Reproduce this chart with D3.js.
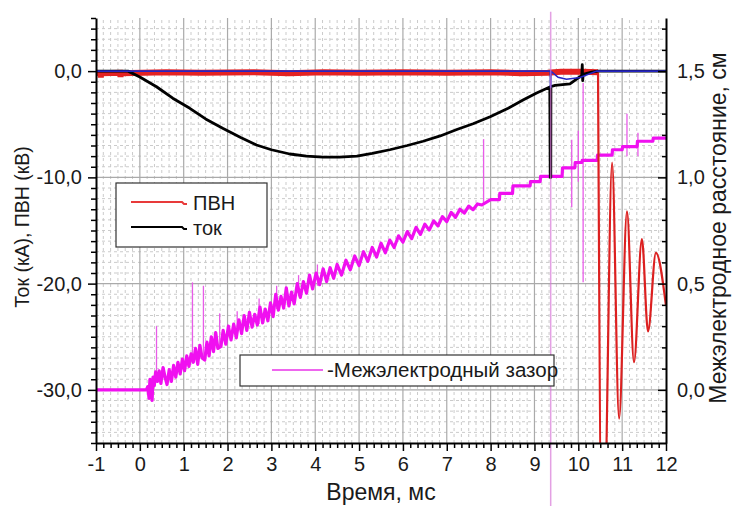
<!DOCTYPE html>
<html>
<head>
<meta charset="utf-8">
<script src="https://cdn.jsdelivr.net/npm/d3@7"></script>
<style>
  body { margin: 0; background: #fff; }
  text { font-family: "Liberation Sans", Arial, sans-serif; fill: #1a1a1a; }
</style>
</head>
<body>
<svg id="chart" width="733" height="506"></svg>
<script>
// ---- data -------------------------------------------------------------
// time axis, ms
const timeTicks = d3.range(-1, 13);
// left axis: current (kA) and ПВН voltage (kV)
const leftTicks = [0, -10, -20, -30];
// right axis: electrode gap, cm
const rightTicks = [0, 0.5, 1.0, 1.5];

// ПВН voltage [t, kV]: noisy band near zero, then ringing after breakdown
const pvnBand = [
  [-1.00, -0.15], [-0.90, -0.20], [-0.89, -0.60], [-0.88, -0.20], [-0.45, -0.15],
  [-0.44, -0.55], [-0.43, -0.20], [0.60, -0.10], [1.40, -0.15], [2.60, -0.10],
  [3.40, -0.20], [4.20, -0.10], [5.00, -0.15], [6.00, -0.10], [7.00, -0.15],
  [8.00, -0.10], [8.70, -0.20], [9.30, -0.15], [9.60, -0.05], [10.10, -0.05],
  [10.45, -0.10]
];
const pvnRinging = [
  [10.45, -0.10], [10.53, -42], [10.59, -42], [10.77, -8.6], [10.93, -32.7],
  [11.11, -13.2], [11.27, -27.4], [11.45, -15.8], [11.59, -24.5], [11.77, -17.1],
  [12.00, -22.1]
];

// current [t, kA]
const current = [
  [-1.00, 0], [-0.27, 0], [0.00, -0.55], [0.38, -1.47], [0.75, -2.55], [1.14, -3.5],
  [1.50, -4.5], [1.90, -5.4], [2.30, -6.25], [2.66, -6.95], [3.00, -7.4], [3.42, -7.8],
  [3.80, -8.0], [4.18, -8.1], [4.55, -8.1], [4.95, -8.0], [5.30, -7.75], [5.70, -7.4],
  [6.10, -7.0], [6.46, -6.6], [6.85, -6.1], [7.23, -5.5], [7.60, -4.95], [7.99, -4.3],
  [8.40, -3.5], [8.75, -2.7], [9.05, -2.05], [9.35, -1.5], [9.36, -10], [9.372, -10],
  [9.375, -1.45], [9.47, -1.35], [9.81, -1.2], [10.08, -0.4], [10.09, 0.6], [10.10, -0.9],
  [10.11, -0.3], [10.30, -0.1], [10.45, 0], [12.00, 0]
];

// auxiliary channel [t, kV]
const auxChannel = [
  [-1.00, 0], [9.360, 0], [9.365, -1.5], [9.372, -1.5], [9.375, 0], [9.54, -0.58],
  [9.73, -0.77], [10.04, -0.6], [10.42, 0], [12.00, 0]
];

// electrode gap [t, cm]
const gap = [
  [-1.00, 0.000], [0.15, 0.000], [0.18, 0.015], [0.21, -0.040], [0.23, 0.050], [0.26, 0.015],
  [0.28, -0.050], [0.30, 0.060], [0.33, 0.020], [0.36, 0.085], [0.40, 0.040], [0.44, 0.090],
  [0.48, 0.030], [0.53, 0.105], [0.58, 0.055], [0.62, 0.025], [0.67, 0.095], [0.72, 0.040],
  [0.77, 0.115], [0.82, 0.060], [0.87, 0.130], [0.92, 0.075], [0.97, 0.145], [1.02, 0.090],
  [1.07, 0.160], [1.12, 0.110], [1.17, 0.170], [1.22, 0.130], [1.27, 0.195], [1.32, 0.120],
  [1.37, 0.210], [1.42, 0.150], [1.48, 0.140], [1.53, 0.225], [1.58, 0.160], [1.63, 0.250],
  [1.68, 0.180], [1.73, 0.270], [1.78, 0.195], [1.85, 0.205], [1.90, 0.280], [1.96, 0.215],
  [2.02, 0.300], [2.08, 0.235], [2.14, 0.310], [2.20, 0.245], [2.26, 0.330], [2.32, 0.265],
  [2.38, 0.350], [2.44, 0.280], [2.50, 0.365], [2.56, 0.295], [2.62, 0.355], [2.68, 0.305],
  [2.74, 0.390], [2.80, 0.315], [2.86, 0.380], [2.92, 0.325], [2.98, 0.410], [3.04, 0.345],
  [3.10, 0.450], [3.16, 0.375], [3.22, 0.440], [3.28, 0.385], [3.34, 0.480], [3.40, 0.395],
  [3.46, 0.460], [3.52, 0.405], [3.59, 0.500], [3.66, 0.435], [3.73, 0.510], [3.80, 0.455],
  [3.87, 0.540], [3.94, 0.475], [4.02, 0.550], [4.10, 0.495], [4.18, 0.570], [4.26, 0.510],
  [4.34, 0.575], [4.42, 0.525], [4.50, 0.590], [4.60, 0.540], [4.70, 0.610], [4.80, 0.565],
  [4.90, 0.630], [5.00, 0.585], [5.10, 0.650], [5.20, 0.605], [5.30, 0.670], [5.40, 0.625],
  [5.50, 0.690], [5.60, 0.645], [5.70, 0.705], [5.80, 0.670], [5.90, 0.725], [6.00, 0.695],
  [6.10, 0.745], [6.20, 0.712], [6.30, 0.765], [6.40, 0.732], [6.50, 0.780], [6.60, 0.752],
  [6.70, 0.795], [6.80, 0.772], [6.90, 0.815], [7.00, 0.792], [7.10, 0.835], [7.20, 0.812],
  [7.30, 0.850], [7.40, 0.832], [7.50, 0.865], [7.60, 0.848], [7.70, 0.875], [7.80, 0.870],
  [8.00, 0.895], [8.20, 0.895], [8.21, 0.925], [8.50, 0.925], [8.51, 0.960], [8.90, 0.960],
  [8.91, 0.980], [9.13, 0.980], [9.14, 1.005], [9.63, 1.005], [9.64, 1.045], [9.92, 1.045],
  [9.93, 1.070], [10.08, 1.070], [10.09, 1.080], [10.43, 1.080], [10.44, 1.105], [10.77, 1.105],
  [10.78, 1.130], [11.00, 1.130], [11.01, 1.145], [11.34, 1.145], [11.35, 1.170], [11.70, 1.170],
  [11.71, 1.185], [12.00, 1.185]
];
// short spikes on the gap channel [t, low, high] (cm)
const gapSpikes = [
  [0.38, 0.04, 0.300], [1.20, 0.13, 0.506], [1.45, 0.14, 0.490], [1.82, 0.20, 0.360],
  [2.22, 0.25, 0.370], [2.72, 0.31, 0.430], [3.12, 0.38, 0.490], [3.62, 0.44, 0.540],
  [4.05, 0.49, 0.590], [7.84, 0.87, 1.180], [9.85, 0.86, 1.177], [10.00, 0.98, 1.220],
  [10.11, 0.506, 1.444], [11.11, 1.10, 1.300], [11.36, 1.10, 1.210]
];
// breakdown flash on the gap channel [t, low, high] (cm)
const gapFlash = [9.37, -0.60, 1.78];

// ---- layout -------------------------------------------------------------
const svg = d3.select("#chart");
const x = d3.scaleLinear([-1, 12], [96, 666]);
const yL = d3.scaleLinear([-35, 5], [443, 18]);
const yR = d3.scaleLinear([-0.25, 1.75], [443, 18]);
const [x0, x1] = x.range();
const [yb, yt] = yL.range();

const commaFmt = d => (d < 0 ? "-" : "") + Math.abs(d).toFixed(1).replace(".", ",");

// grid
const grid = svg.append("g");
const xMinor = d3.range(0, 79).filter(i => i % 6 !== 0).map(i => -1 + i / 6);
const yMinor = d3.range(-34, 5).filter(v => v % 10 !== 0);
grid.selectAll(".vm").data(xMinor).join("line")
  .attr("x1", d => x(d)).attr("x2", d => x(d)).attr("y1", yb).attr("y2", yt)
  .attr("stroke", "#cbcbcb").attr("stroke-width", 1).attr("stroke-dasharray", "3,3");
grid.selectAll(".hm").data(yMinor).join("line")
  .attr("x1", x0).attr("x2", x1).attr("y1", d => yL(d)).attr("y2", d => yL(d))
  .attr("stroke", "#cbcbcb").attr("stroke-width", 1).attr("stroke-dasharray", "3,3");
grid.selectAll(".vM").data(timeTicks.filter(d => d > -1 && d < 12)).join("line")
  .attr("x1", d => x(d)).attr("x2", d => x(d)).attr("y1", yb).attr("y2", yt)
  .attr("stroke", "#aaaaaa").attr("stroke-width", 1.2);
grid.selectAll(".hM").data(leftTicks).join("line")
  .attr("x1", x0).attr("x2", x1).attr("y1", d => yL(d)).attr("y2", d => yL(d))
  .attr("stroke", "#aaaaaa").attr("stroke-width", 1.2);

// clip for data curves
svg.append("clipPath").attr("id", "plotClip")
  .append("rect").attr("x", x0).attr("y", yt).attr("width", x1 - x0).attr("height", yb - yt);
const plot = svg.append("g").attr("clip-path", "url(#plotClip)");

const lineL = d3.line().x(d => x(d[0])).y(d => yL(d[1]));
const lineR = d3.line().x(d => x(d[0])).y(d => yR(d[1]));

// electrode gap (right axis)
plot.selectAll(".gs").data(gapSpikes).join("line")
  .attr("x1", d => x(d[0])).attr("x2", d => x(d[0]))
  .attr("y1", d => yR(d[1])).attr("y2", d => yR(d[2]))
  .attr("stroke", "#e85ce8").attr("stroke-width", 1.3);
plot.append("path").datum(gap).attr("d", lineR)
  .attr("fill", "none").attr("stroke", "#f010f0").attr("stroke-width", 3.2)
  .attr("stroke-linejoin", "round");

// ПВН voltage
plot.append("path").datum(pvnBand).attr("d", lineL)
  .attr("fill", "none").attr("stroke", "#e42222").attr("stroke-width", 6);
plot.append("path").datum(pvnRinging).attr("d", lineL.curve(d3.curveMonotoneX))
  .attr("fill", "none").attr("stroke", "#dc2020").attr("stroke-width", 2.2);
lineL.curve(d3.curveLinear);

// current
plot.append("path").datum(current).attr("d", lineL)
  .attr("fill", "none").attr("stroke", "#000").attr("stroke-width", 2.8)
  .attr("stroke-linejoin", "round");

// auxiliary channel
plot.append("path").datum(auxChannel).attr("d", lineL)
  .attr("fill", "none").attr("stroke", "#2626c4").attr("stroke-width", 1.6);

// breakdown flash line crosses the whole frame
svg.append("line")
  .attr("x1", x(gapFlash[0])).attr("x2", x(gapFlash[0]))
  .attr("y1", yR(gapFlash[1])).attr("y2", yR(gapFlash[2]))
  .attr("stroke", "#d878d8").attr("stroke-width", 1.5).attr("opacity", 0.7);

// axes
const axes = svg.append("g").attr("font-size", 20);
function styleAxis(g) {
  g.select(".domain").attr("stroke", "#000").attr("stroke-width", 2);
  g.selectAll(".tick line").attr("stroke", "#000").attr("stroke-width", 1.5);
  g.selectAll("text").attr("font-family", "Liberation Sans, Arial, sans-serif").attr("fill", "#1a1a1a");
}
// bottom
axes.append("g").attr("transform", `translate(0,${yb})`)
  .call(d3.axisBottom(x).tickValues(xMinor).tickSize(5).tickFormat(""))
  .call(g => { g.select(".domain").remove(); g.selectAll("line").attr("stroke", "#000").attr("stroke-width", 1.5); });
axes.append("g").attr("transform", `translate(0,${yb})`)
  .call(d3.axisBottom(x).tickValues(timeTicks).tickSize(8).tickSizeOuter(0).tickPadding(6)
    .tickFormat(d => (d < 0 ? "-" : "") + Math.abs(d)))
  .call(styleAxis).attr("font-size", 20);
// left
axes.append("g").attr("transform", `translate(${x0},0)`)
  .call(d3.axisLeft(yL).tickValues(d3.range(-35, 6).filter(v => v % 10 !== 0)).tickSize(5).tickFormat(""))
  .call(g => { g.select(".domain").remove(); g.selectAll("line").attr("stroke", "#000").attr("stroke-width", 1.5); });
axes.append("g").attr("transform", `translate(${x0},0)`)
  .call(d3.axisLeft(yL).tickValues(leftTicks).tickSize(8).tickSizeOuter(0).tickPadding(6).tickFormat(commaFmt))
  .call(styleAxis).attr("font-size", 20);
// right (ticks point inward)
axes.append("g").attr("transform", `translate(${x1},0)`)
  .call(d3.axisLeft(yR).tickValues(d3.range(-2, 18).map(v => v / 10).filter(v => Math.round(v * 10) % 5 !== 0)).tickSize(4).tickFormat(""))
  .call(g => { g.select(".domain").remove(); g.selectAll("line").attr("stroke", "#000").attr("stroke-width", 1.5); });
axes.append("g").attr("transform", `translate(${x1},0)`)
  .call(d3.axisRight(yR).tickValues(rightTicks).tickSize(0).tickSizeOuter(0).tickPadding(11).tickFormat(commaFmt))
  .call(styleAxis).attr("font-size", 20)
  .call(g => g.selectAll(".tick").append("line").attr("x1", -8).attr("x2", 0).attr("stroke", "#000").attr("stroke-width", 1.5));

// axis titles
svg.append("text").attr("transform", "translate(29,227) rotate(-90)")
  .attr("text-anchor", "middle").attr("font-size", 19.5).text("Ток (кА), ПВН (кВ)");
svg.append("text").attr("transform", "translate(726,228) rotate(-90)")
  .attr("text-anchor", "middle").attr("font-size", 23).text("Межэлектродное расстояние, см");
svg.append("text").attr("x", 381).attr("y", 500)
  .attr("text-anchor", "middle").attr("font-size", 23).text("Время, мс");

// legends
const leg1 = svg.append("g");
leg1.append("rect").attr("x", 116).attr("y", 183).attr("width", 151).attr("height", 64)
  .attr("fill", "#fff").attr("stroke", "#333").attr("stroke-width", 1.2);
const legItems = [
  { label: "ПВН", color: "#e83a3a", y: 202 },
  { label: "ток", color: "#000", y: 227 }
];
legItems.forEach(it => {
  leg1.append("path").attr("d", `M131,${it.y}H182L184,${it.y + 2}H187`)
    .attr("fill", "none").attr("stroke", it.color).attr("stroke-width", 2);
  leg1.append("text").attr("x", 193).attr("y", it.y + 8).attr("font-size", 20).text(it.label);
});

const leg2 = svg.append("g");
leg2.append("rect").attr("x", 240).attr("y", 355).attr("width", 314).attr("height", 31)
  .attr("fill", "#fff").attr("stroke", "#333").attr("stroke-width", 1.2);
leg2.append("line").attr("x1", 272).attr("x2", 323).attr("y1", 370).attr("y2", 370)
  .attr("stroke", "#ee66ee").attr("stroke-width", 2);
leg2.append("text").attr("x", 327).attr("y", 377).attr("font-size", 20.5).text("-Межэлектродный зазор");
</script>
</body>
</html>
